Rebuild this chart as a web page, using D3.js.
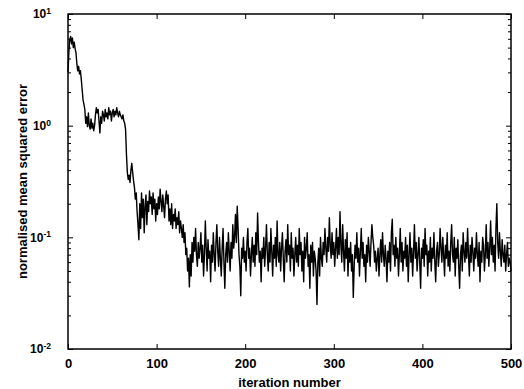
<!DOCTYPE html>
<html>
<head>
<meta charset="utf-8">
<script src="https://cdn.jsdelivr.net/npm/d3@7"></script>
<style>
  body { margin: 0; background: #fff; }
  svg { display: block; }
  text { font-family: "Liberation Sans", Arial, sans-serif; fill: #000; font-weight: bold; }
</style>
</head>
<body>
<svg id="chart" width="524" height="389"></svg>
<script>

// normalised mean squared error, one value per iteration (0..500)
var errorValues = [
  3.0, 4.6, 5.9, 6.3, 5.4, 6.1, 5.0, 5.6, 4.9, 4.5, 3.6, 3.1, 3.4, 2.9, 3.1, 2.6, 2.1, 1.7, 1.55, 1.4,
  1.05, 1.2, 0.98, 1.3, 1.0, 0.93, 1.15, 0.95, 1.05, 0.9, 1.0, 1.25, 1.45, 1.3, 1.4, 1.1, 0.86, 1.2, 1.05, 1.35,
  1.25, 1.1, 1.4, 1.2, 1.3, 1.15, 1.45, 1.25, 1.35, 1.1, 1.3, 1.4, 1.2, 1.35, 1.25, 1.45, 1.3, 1.2, 1.35, 1.25,
  1.2, 1.15, 1.25, 1.1, 1.05, 0.92, 0.55, 0.38, 0.33, 0.36, 0.31, 0.4, 0.46, 0.38, 0.32, 0.28, 0.22, 0.25, 0.17, 0.13,
  0.095, 0.2, 0.12, 0.25, 0.15, 0.22, 0.11, 0.19, 0.24, 0.13, 0.21, 0.17, 0.26, 0.2, 0.23, 0.16, 0.25, 0.18, 0.22, 0.14,
  0.2, 0.16, 0.23, 0.18, 0.27, 0.21, 0.17, 0.24, 0.19, 0.15, 0.22, 0.26, 0.2, 0.24, 0.14, 0.18, 0.13, 0.2, 0.12, 0.16,
  0.14, 0.18, 0.12, 0.15, 0.13, 0.17, 0.11, 0.14, 0.12, 0.1, 0.13, 0.09, 0.11, 0.07, 0.08, 0.05, 0.065, 0.036, 0.07, 0.045,
  0.09, 0.06, 0.1, 0.075, 0.12, 0.07, 0.055, 0.09, 0.065, 0.08, 0.11, 0.06, 0.085, 0.045, 0.07, 0.14, 0.08, 0.05, 0.095, 0.065,
  0.075, 0.04, 0.085, 0.06, 0.11, 0.07, 0.05, 0.09, 0.13, 0.075, 0.055, 0.1, 0.065, 0.045, 0.08, 0.12, 0.06, 0.035, 0.07, 0.09,
  0.06, 0.11, 0.075, 0.05, 0.09, 0.065, 0.13, 0.08, 0.1, 0.16, 0.09, 0.19, 0.12, 0.07, 0.055, 0.03, 0.08, 0.065, 0.1, 0.06,
  0.075, 0.05, 0.09, 0.12, 0.065, 0.08, 0.045, 0.07, 0.1, 0.06, 0.085, 0.055, 0.11, 0.07, 0.165, 0.09, 0.06, 0.075, 0.04, 0.08,
  0.065, 0.1, 0.055, 0.08, 0.13, 0.07, 0.05, 0.09, 0.06, 0.12, 0.075, 0.045, 0.085, 0.065, 0.1, 0.055, 0.14, 0.07, 0.06, 0.09,
  0.05, 0.08, 0.11, 0.065, 0.04, 0.075, 0.095, 0.06, 0.13, 0.07, 0.085, 0.05, 0.11, 0.065, 0.08, 0.045, 0.07, 0.1, 0.06, 0.085,
  0.055, 0.12, 0.07, 0.09, 0.05, 0.075, 0.04, 0.1, 0.065, 0.08, 0.11, 0.055, 0.07, 0.035, 0.085, 0.06, 0.09, 0.045, 0.075, 0.065,
  0.05, 0.025, 0.06, 0.08, 0.045, 0.1, 0.065, 0.055, 0.09, 0.07, 0.12, 0.08, 0.06, 0.1, 0.075, 0.15, 0.085, 0.065, 0.11, 0.07,
  0.09, 0.055, 0.08, 0.12, 0.065, 0.1, 0.07, 0.17, 0.085, 0.06, 0.13, 0.075, 0.05, 0.095, 0.065, 0.11, 0.045, 0.08, 0.06, 0.09,
  0.05, 0.07, 0.029, 0.055, 0.085, 0.065, 0.11, 0.06, 0.08, 0.045, 0.075, 0.12, 0.065, 0.09, 0.055, 0.07, 0.04, 0.085, 0.06, 0.1,
  0.075, 0.055, 0.09, 0.13, 0.1, 0.085, 0.06, 0.075, 0.05, 0.065, 0.08, 0.045, 0.07, 0.095, 0.06, 0.11, 0.07, 0.055, 0.085, 0.065,
  0.04, 0.075, 0.06, 0.09, 0.05, 0.11, 0.145, 0.07, 0.085, 0.055, 0.1, 0.065, 0.08, 0.045, 0.07, 0.12, 0.06, 0.09, 0.05, 0.075,
  0.065, 0.1, 0.055, 0.085, 0.04, 0.07, 0.11, 0.06, 0.08, 0.045, 0.075, 0.13, 0.065, 0.09, 0.05, 0.07, 0.1, 0.06, 0.035, 0.08,
  0.065, 0.095, 0.055, 0.12, 0.07, 0.085, 0.045, 0.075, 0.06, 0.1, 0.05, 0.08, 0.065, 0.11, 0.06, 0.04, 0.075, 0.09, 0.055, 0.07,
  0.12, 0.08, 0.06, 0.1, 0.07, 0.045, 0.085, 0.065, 0.11, 0.055, 0.075, 0.05, 0.09, 0.13, 0.07, 0.06, 0.1, 0.045, 0.08, 0.065,
  0.095, 0.055, 0.035, 0.07, 0.085, 0.05, 0.11, 0.075, 0.06, 0.09, 0.065, 0.12, 0.07, 0.045, 0.085, 0.06, 0.1, 0.075, 0.05, 0.08,
  0.065, 0.11, 0.07, 0.055, 0.09, 0.04, 0.075, 0.06, 0.1, 0.085, 0.05, 0.07, 0.13, 0.065, 0.09, 0.055, 0.08, 0.14, 0.07, 0.1,
  0.06, 0.085, 0.05, 0.12, 0.2, 0.09, 0.065, 0.11, 0.075, 0.055, 0.095, 0.07, 0.06, 0.085, 0.05, 0.07, 0.09, 0.055, 0.065, 0.06, 0.05
]

var xTicks = [0, 100, 200, 300, 400, 500]
var yDecades = [0.01, 0.1, 1, 10]
var yExponents = ["-2", "-1", "0", "1"]

// plot box in pixels
var plotLeft = 68, plotRight = 511, plotTop = 14, plotBottom = 349

var svg = d3.select("#chart")

var x = d3.scaleLinear().domain([0, 500]).range([plotLeft, plotRight])
var y = d3.scaleLog().domain([0.01, 10]).range([plotBottom, plotTop])

// minor ticks 2..9 in each decade
var yMinor = []
yDecades.slice(0, 3).forEach(function (d) {
  for (var k = 2; k <= 9; k++) yMinor.push(d * k)
})

// the curve
var line = d3.line()
  .x((d, i) => x(i))
  .y(d => y(d))

svg.append("path")
  .datum(errorValues)
  .attr("d", line)
  .attr("fill", "none")
  .attr("stroke", "#000")
  .attr("stroke-width", 1.4)
  .attr("stroke-linejoin", "round")

// bottom axis with labels, ticks pointing in
var xAxis = svg.append("g")
  .attr("transform", `translate(0,${plotBottom})`)
  .call(d3.axisBottom(x).tickValues(xTicks).tickSizeInner(-5).tickSizeOuter(0).tickPadding(10))
xAxis.selectAll("text").style("font-size", "13px")

// top axis, ticks only
svg.append("g")
  .attr("transform", `translate(0,${plotTop})`)
  .call(d3.axisTop(x).tickValues(xTicks).tickSizeInner(-5).tickSizeOuter(0).tickFormat(""))

// left axis with 10^n labels
var yAxis = svg.append("g")
  .attr("transform", `translate(${plotLeft},0)`)
  .call(d3.axisLeft(y).tickValues(yDecades).tickSizeInner(-5).tickSizeOuter(0).tickPadding(17).tickFormat(""))

yAxis.selectAll(".tick text")
  .style("font-size", "12px")
  .each(function (d, i) {
    var t = d3.select(this)
    t.append("tspan").text("10")
    t.append("tspan").text(yExponents[i]).attr("dy", "-0.5em").style("font-size", "8.5px")
  })

svg.append("g")
  .attr("transform", `translate(${plotLeft},0)`)
  .call(d3.axisLeft(y).tickValues(yMinor).tickSizeInner(-3).tickSizeOuter(0).tickFormat(""))

// right axis ticks
svg.append("g")
  .attr("transform", `translate(${plotRight},0)`)
  .call(d3.axisRight(y).tickValues(yDecades).tickSizeInner(-5).tickSizeOuter(0).tickFormat(""))
svg.append("g")
  .attr("transform", `translate(${plotRight},0)`)
  .call(d3.axisRight(y).tickValues(yMinor).tickSizeInner(-3).tickSizeOuter(0).tickFormat(""))

svg.selectAll(".domain").remove()
svg.selectAll(".tick line").attr("stroke", "#000").attr("stroke-width", 1)

// frame
svg.append("rect")
  .attr("x", plotLeft).attr("y", plotTop)
  .attr("width", plotRight - plotLeft).attr("height", plotBottom - plotTop)
  .attr("fill", "none")
  .attr("stroke", "#000")
  .attr("stroke-width", 1.5)

// axis titles
svg.append("text")
  .attr("x", (plotLeft + plotRight) / 2)
  .attr("y", 387)
  .attr("text-anchor", "middle")
  .style("font-size", "13px")
  .text("iteration number")

svg.append("text")
  .attr("transform", `translate(27,${(plotTop + plotBottom) / 2}) rotate(-90)`)
  .attr("text-anchor", "middle")
  .style("font-size", "13px")
  .text("normalised mean squared error")

</script>
</body>
</html>
